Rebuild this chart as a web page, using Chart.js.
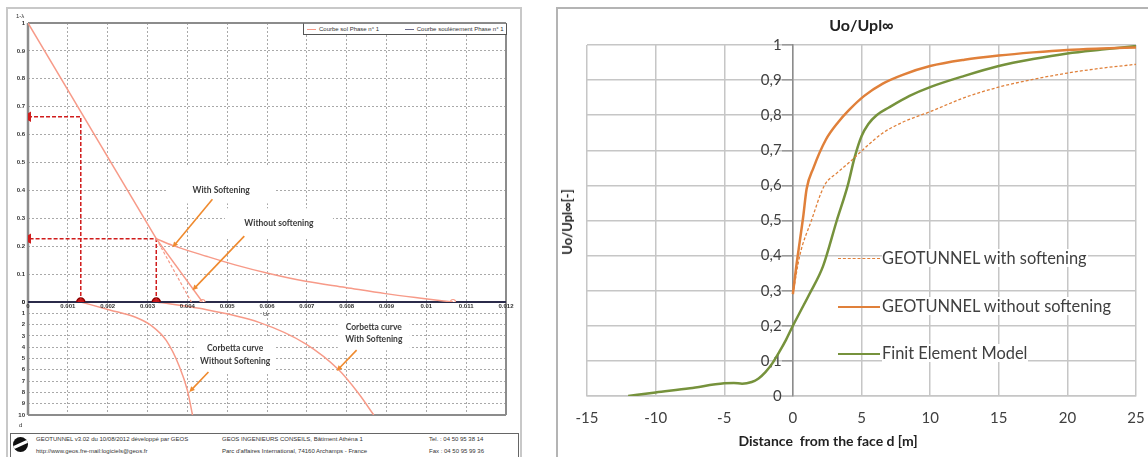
<!DOCTYPE html>
<html>
<head>
<meta charset="utf-8">
<title>GEOTUNNEL - Uo/Upl</title>
<script src="https://cdn.jsdelivr.net/npm/chart.js@4.4.1/dist/chart.umd.min.js"></script>
<style>
html, body { margin: 0; padding: 0; background: #fff; }
body { position: relative; width: 1148px; height: 457px; overflow: hidden; font-family: "Liberation Sans", Arial, sans-serif; color: #333; }
canvas, .abs { position: absolute; }
#leftFrame { left: 6px; top: 7px; width: 512px; height: 470px; border: 2px solid #c8c8c8; }
#rightFrame { left: 556px; top: 7px; width: 620px; height: 470px; border: 2px solid #b4b4b4; }
#soilLegend { left: 303px; top: 23px; width: 202px; height: 10px; border: 1px solid #555; border-top-color: #888; background: #fff; font-size: 6px; line-height: 10px; white-space: nowrap; }
#soilLegend .k { display: inline-block; width: 9px; height: 0; border-top: 1px solid; vertical-align: middle; margin: 0 3px 0 3px; }
.tiny { font-size: 6px; line-height: 7px; white-space: nowrap; color: #333; }
#footer { left: 10px; top: 433px; width: 507px; height: 30px; border: 1px solid #666; }
#logo { left: 13px; top: 437px; width: 15px; height: 15px; border-radius: 50%; background: #111; overflow: hidden; }
#logo div { position: absolute; left: -2px; top: 6px; width: 19px; height: 3px; background: #fff; transform: rotate(-25deg); border-radius: 2px; }
.ttl { font-family: Lato, "Open Sans", sans-serif; font-weight: bold; color: #222; white-space: nowrap; }
.leg { left: 838px; height: 18px; font: 16.4px Lato, "Open Sans", sans-serif; color: #404040; white-space: nowrap; }
.leg .k { position: absolute; left: 0; top: 9px; width: 42px; height: 0; border-top-style: solid; }
.leg .t { position: absolute; left: 44px; top: 0; line-height: 18px; background: #fff; padding-right: 1px; }
</style>
</head>
<body>
<div id="leftFrame" class="abs"></div>
<div id="rightFrame" class="abs"></div>

<canvas id="corbettaChart" width="530" height="140" style="left:0;top:290px"></canvas>
<canvas id="soilChart" width="530" height="320" style="left:0;top:0"></canvas>
<canvas id="convChart" width="612" height="449" style="left:557px;top:8px"></canvas>

<div class="abs tiny" style="left:16px;top:13px">1-λ</div>
<div class="abs tiny" style="left:263px;top:311px">Ur</div>
<div class="abs tiny" style="left:19px;top:422px">d</div>

<div id="soilLegend" class="abs">
  <span class="k" style="border-color:#f79a88"></span>Courbe sol Phase n° 1
  <span class="k" style="border-color:#6c6c8c;margin-left:24px"></span>Courbe soulènement Phase n° 1
</div>

<div id="footer" class="abs"></div>
<div id="logo" class="abs"><div></div></div>
<div class="abs tiny" style="left:36px;top:436px">GEOTUNNEL v3.02 du 10/08/2012 développé par GEOS</div>
<div class="abs tiny" style="left:36px;top:448px">http://www.geos.fre-mail:logiciels@geos.fr</div>
<div class="abs tiny" style="left:222px;top:436px">GEOS INGENIEURS CONSEILS, Bâtiment Athéna 1</div>
<div class="abs tiny" style="left:222px;top:448px">Parc d'affaires International, 74160 Archamps - France</div>
<div class="abs tiny" style="left:429px;top:436px">Tel. : 04 50 95 38 14</div>
<div class="abs tiny" style="left:429px;top:448px">Fax : 04 50 95 99 36</div>

<div class="abs ttl" style="left:567px;top:222px;font-size:13px;transform:translate(-50%,-50%) rotate(-90deg)">Uo/Upl∞[-]</div>
<div class="abs ttl" style="left:828px;top:440px;font-size:14px;transform:translate(-50%,-50%)">Distance&nbsp; from the face d [m]</div>

<div class="abs leg" style="top:249px"><span class="k" style="border-top-width:1px;border-top-style:dashed;border-color:#e0803a"></span><span class="t">GEOTUNNEL with softening</span></div>
<div class="abs leg" style="top:297px"><span class="k" style="border-top-width:2.5px;border-color:#e0803a"></span><span class="t">GEOTUNNEL without softening</span></div>
<div class="abs leg" style="top:344px"><span class="k" style="border-top-width:2.5px;border-color:#76923c"></span><span class="t">Finit Element Model</span></div>

<script>
// ---- left: ground reaction curve (1-lambda vs Ur) ----
const soilElasticUr = [0, 0.00322];
const soilElasticL = [1, 0.227];
const soilSoftUr = [0.00322, 0.00363, 0.0045, 0.0052, 0.00605, 0.00697, 0.00797, 0.00897, 0.00997, 0.01067];
const soilSoftL = [0.227, 0.203, 0.163, 0.133, 0.102, 0.074, 0.052, 0.030, 0.012, 0];
const soilNoSoftUr = [0.00322, 0.00438];
const soilNoSoftL = [0.227, 0];
const soilTrendUr = [0.00322, 0.0041];
const soilTrendL = [0.227, 0];
const readUr1 = [0.001325, 0.001325, 0];
const readL1 = [0, 0.664, 0.664];
const readUr2 = [0.00322, 0.00322, 0];
const readL2 = [0, 0.227, 0.227];
const pickUr = [0.001325, 0.00322];
const pickL = [0, 0];
const endUr = [0.00438, 0.01067];
const endL = [0, 0];

// ---- left, lower part: Corbetta curves (Ur vs d) ----
const corbNoSoftUr = [0.001325, 0.00205, 0.0027, 0.0031, 0.00347, 0.0038, 0.004, 0.00413];
const corbNoSoftD = [0, 0.7, 1.35, 2.1, 3.4, 5.7, 7.8, 10];
const corbSoftUr = [0.00322, 0.0043, 0.0058, 0.00697, 0.0078, 0.0083, 0.00868];
const corbSoftD = [0, 0.56, 1.8, 3.7, 6.0, 8.1, 10];

// ---- right: Uo/Upl vs distance from the face ----
const femD = [-12, -10, -7.5, -5, -4.3, -3.7, -3, -2.5, -2, -1.5, -1, -0.5, 0, 0.6, 1.2, 2.2, 3.2, 4, 4.5, 5, 5.5, 6.1, 7, 8.5, 10, 12.5, 15, 17.5, 20, 22.5, 25];
const femU = [0, 0.01, 0.022, 0.036, 0.037, 0.035, 0.04, 0.05, 0.068, 0.093, 0.125, 0.16, 0.2, 0.245, 0.29, 0.37, 0.5, 0.6, 0.68, 0.74, 0.775, 0.8, 0.822, 0.855, 0.88, 0.912, 0.94, 0.96, 0.976, 0.987, 0.997];
const noSoftD = [0, 0.25, 0.5, 0.75, 1.0, 1.5, 2.4, 3.3, 4.1, 5.2, 6.55, 8, 10, 12.5, 15, 17.5, 20, 22.5, 25];
const noSoftU = [0.29, 0.37, 0.44, 0.51, 0.59, 0.65, 0.73, 0.78, 0.815, 0.855, 0.89, 0.915, 0.94, 0.958, 0.97, 0.979, 0.986, 0.99, 0.993];
const softD = [0, 0.5, 1.35, 2.3, 3.2, 4.1, 5.2, 6.5, 8, 10, 12.5, 15, 17.5, 20, 22.5, 25];
const softU = [0.29, 0.4, 0.5, 0.6, 0.635, 0.665, 0.705, 0.748, 0.78, 0.81, 0.85, 0.88, 0.902, 0.92, 0.934, 0.945];

const SALMON = "#f79a88";
const ORANGE = "#e0803a";
const GREEN = "#76923c";

const pts = (xs, ys) => xs.map((x, i) => ({ x: x, y: ys[i] }));

// fixed axis sizes so both left plots line up
const fixW = (w) => (s) => { s.width = w; s.paddingTop = 0; s.paddingBottom = 0; };
const fixH = (h) => (s) => { s.height = h; s.paddingLeft = 0; s.paddingRight = 0; };

// thick frame round the plot area, x axis in navy
const framePlugin = {
    id: "frame",
    beforeDatasetsDraw(chart, args, o) {
        const a = chart.chartArea;
        const ctx = chart.ctx;
        const seg = (c, w, x1, y1, x2, y2) => {
            ctx.save();
            ctx.strokeStyle = c;
            ctx.lineWidth = w;
            ctx.beginPath();
            ctx.moveTo(x1, y1);
            ctx.lineTo(x2, y2);
            ctx.stroke();
            ctx.restore();
        };
        seg(o.left, 2.5, a.left, a.top, a.left, a.bottom);
        seg(o.left, 2, a.right, a.top, a.right, a.bottom);
        seg(o.top, 2, a.left, a.top, a.right, a.top);
        seg(o.bottom, 2, a.left, a.bottom, a.right, a.bottom);
    },
};

// text call-outs (white patch + text) with orange arrows, anchored in data units
const notesPlugin = {
    id: "notes",
    beforeDatasetsDraw(chart, args, o) {
        const ctx = chart.ctx;
        const sx = chart.scales.x;
        const sy = chart.scales.y;
        (o.items || []).forEach((n) => {
            const cx = sx.getPixelForValue(n.at[0]);
            const cy = sy.getPixelForValue(n.at[1]);
            ctx.save();
            ctx.fillStyle = "#fff";
            ctx.fillRect(cx - n.box[0] / 2, cy - n.box[1] / 2 + (n.dy || 0), n.box[0], n.box[1]);
            ctx.font = "bold 8.5px Lato";
            ctx.fillStyle = "#3a3a3a";
            ctx.textAlign = "center";
            ctx.textBaseline = "middle";
            n.text.forEach((t, i) => ctx.fillText(t, cx, cy + (i - (n.text.length - 1) / 2) * 12.5));
            ctx.restore();
        });
    },
    afterDatasetsDraw(chart, args, o) {
        const ctx = chart.ctx;
        const sx = chart.scales.x;
        const sy = chart.scales.y;
        (o.items || []).forEach((n) => {
            const x1 = sx.getPixelForValue(n.from[0]);
            const y1 = sy.getPixelForValue(n.from[1]);
            const x2 = sx.getPixelForValue(n.to[0]);
            const y2 = sy.getPixelForValue(n.to[1]);
            const ang = Math.atan2(y2 - y1, x2 - x1);
            ctx.save();
            ctx.strokeStyle = "#ef8a2e";
            ctx.fillStyle = "#ef8a2e";
            ctx.lineWidth = 1.6;
            ctx.beginPath();
            ctx.moveTo(x1, y1);
            ctx.lineTo(x2 - 4 * Math.cos(ang), y2 - 4 * Math.sin(ang));
            ctx.stroke();
            ctx.beginPath();
            ctx.moveTo(x2, y2);
            ctx.lineTo(x2 - 6 * Math.cos(ang - 0.45), y2 - 6 * Math.sin(ang - 0.45));
            ctx.lineTo(x2 - 6 * Math.cos(ang + 0.45), y2 - 6 * Math.sin(ang + 0.45));
            ctx.closePath();
            ctx.fill();
            ctx.restore();
        });
    },
};

const smallFont = { family: "'Liberation Sans', Arial, sans-serif", size: 6, weight: "bold" };
const dotGrid = { color: "#a9a9a9", lineWidth: 1, drawTicks: false };

const lineSet = (data, color, width, extra) =>
    Object.assign({ data: data, showLine: true, borderColor: color, borderWidth: width, pointRadius: 0, fill: false }, extra || {});

const arrowEnd = (ctx) => (ctx.dataIndex === 2 ? 4.5 : 0);

new Chart(document.getElementById("soilChart"), {
    type: "scatter",
    data: {
        datasets: [
            lineSet(pts(soilElasticUr, soilElasticL), SALMON, 1.5),
            lineSet(pts(soilSoftUr, soilSoftL), SALMON, 1.5, { cubicInterpolationMode: "monotone" }),
            lineSet(pts(soilNoSoftUr, soilNoSoftL), SALMON, 1.5),
            lineSet(pts(soilTrendUr, soilTrendL), SALMON, 1.2, { borderDash: [3, 2] }),
            lineSet(pts(readUr1, readL1), "#d01c1c", 1.5, {
                borderDash: [4, 2], pointRadius: arrowEnd, pointStyle: "triangle", rotation: 270,
                pointBackgroundColor: "#d01c1c", pointBorderColor: "#d01c1c",
            }),
            lineSet(pts(readUr2, readL2), "#d01c1c", 1.5, {
                borderDash: [4, 2], pointRadius: arrowEnd, pointStyle: "triangle", rotation: 270,
                pointBackgroundColor: "#d01c1c", pointBorderColor: "#d01c1c",
            }),
            { data: pts(pickUr, pickL), pointRadius: 4, pointBackgroundColor: "#c8161a", pointBorderColor: "#8a0000", pointBorderWidth: 1.5 },
            { data: pts(endUr, endL), pointRadius: 2.5, pointBackgroundColor: "#fff", pointBorderColor: SALMON, pointBorderWidth: 1.2 },
        ],
    },
    options: {
        responsive: false,
        animation: false,
        layout: { padding: { top: 23, right: 24, left: 0, bottom: 0 } },
        plugins: {
            legend: { display: false },
            tooltip: { enabled: false },
            frame: { left: "#8c8c8c", top: "#8c8c8c", bottom: "#2b2b4a" },
            notes: {
                items: [
                    { text: ["With Softening"], at: [0.00485, 0.4], box: [108, 38], dy: -6, from: [0.00463, 0.368], to: [0.00363, 0.196] },
                    { text: ["Without softening"], at: [0.0063, 0.282], box: [108, 30], from: [0.00543, 0.236], to: [0.00413, 0.042] },
                ],
            },
        },
        scales: {
            x: {
                type: "linear",
                min: 0,
                max: 0.012,
                afterFit: fixH(18),
                grid: dotGrid,
                border: { display: false, dash: [2, 2] },
                ticks: {
                    stepSize: 0.001,
                    padding: 1,
                    maxRotation: 0,
                    autoSkip: false,
                    color: "#333",
                    font: smallFont,
                    callback: (v) => String(+v.toFixed(3)),
                },
            },
            y: {
                min: 0,
                max: 1,
                afterFit: fixW(28),
                grid: dotGrid,
                border: { display: false, dash: [2, 2] },
                ticks: {
                    stepSize: 0.1,
                    padding: 3,
                    autoSkip: false,
                    color: "#333",
                    font: smallFont,
                    callback: (v) => String(+v.toFixed(1)),
                },
            },
        },
    },
    plugins: [framePlugin, notesPlugin],
});

new Chart(document.getElementById("corbettaChart"), {
    type: "scatter",
    data: {
        datasets: [
            lineSet(pts(corbNoSoftUr, corbNoSoftD), SALMON, 1.5, { cubicInterpolationMode: "monotone" }),
            lineSet(pts(corbSoftUr, corbSoftD), SALMON, 1.5, { cubicInterpolationMode: "monotone" }),
        ],
    },
    options: {
        responsive: false,
        animation: false,
        layout: { padding: { top: 12, right: 24, left: 0, bottom: 15 } },
        plugins: {
            legend: { display: false },
            tooltip: { enabled: false },
            frame: { left: "#8c8c8c", top: "#2b2b4a", bottom: "#8c8c8c" },
            notes: {
                items: [
                    { text: ["Corbetta curve", "Without Softening"], at: [0.0052, 4.66], box: [78, 36], from: [0.00453, 6.2], to: [0.00405, 7.97] },
                    { text: ["Corbetta curve", "With Softening"], at: [0.00868, 2.76], box: [72, 34], from: [0.00825, 4.26], to: [0.00775, 6.1] },
                ],
            },
        },
        scales: {
            x: {
                type: "linear",
                min: 0,
                max: 0.012,
                afterFit: fixH(0),
                grid: dotGrid,
                border: { display: false, dash: [2, 2] },
                ticks: { stepSize: 0.001, display: false },
            },
            y: {
                reverse: true,
                min: 0,
                max: 10,
                afterFit: fixW(28),
                grid: dotGrid,
                border: { display: false, dash: [2, 2] },
                ticks: { stepSize: 1, padding: 3, autoSkip: false, color: "#333", font: smallFont },
            },
        },
    },
    plugins: [framePlugin, notesPlugin],
});

const calibri = { family: "Lato, 'Open Sans', sans-serif", size: 15 };

new Chart(document.getElementById("convChart"), {
    type: "line",
    data: {
        datasets: [
            { label: "GEOTUNNEL with softening", data: pts(softD, softU), borderColor: ORANGE, borderWidth: 1.3, borderDash: [3, 2], pointRadius: 0, cubicInterpolationMode: "monotone" },
            { label: "GEOTUNNEL without softening", data: pts(noSoftD, noSoftU), borderColor: ORANGE, borderWidth: 2.5, pointRadius: 0, cubicInterpolationMode: "monotone" },
            { label: "Finit Element Model", data: pts(femD, femU), borderColor: GREEN, borderWidth: 2.5, pointRadius: 0, cubicInterpolationMode: "monotone" },
        ],
    },
    options: {
        responsive: false,
        animation: false,
        layout: { padding: { left: 30, right: 33, top: 0, bottom: 0 } },
        plugins: {
            legend: { display: false },
            tooltip: { enabled: false },
            title: {
                display: true,
                text: "Uo/Upl∞",
                color: "#222",
                font: { family: "Lato, 'Open Sans', sans-serif", size: 16, weight: "bold" },
                padding: { top: 8, bottom: 9.8 },
            },
        },
        scales: {
            x: {
                type: "linear",
                min: -15,
                max: 25,
                afterFit: fixH(61),
                grid: { color: "#c6c6c6", lineWidth: 1.5, drawTicks: false },
                border: { color: "#c6c6c6", width: 1.5 },
                ticks: { stepSize: 5, padding: 13, color: "#404040", font: calibri, maxRotation: 0 },
            },
            y: {
                position: { x: 0 },
                min: 0,
                max: 1,
                afterFit: (s) => { s.paddingTop = 0; s.paddingBottom = 0; },
                grid: { color: "#c6c6c6", lineWidth: 1.5, tickLength: 10, tickColor: "#9a9a9a" },
                border: { color: "#8c8c8c", width: 1.5 },
                ticks: {
                    stepSize: 0.1,
                    padding: 2,
                    color: "#404040",
                    font: calibri,
                    // the label sits at the crossing axis; the em space keeps it clear of the tick mark
                    callback: (v) => (v === 0 || v === 1 ? String(v) : v.toFixed(1).replace(".", ",")) + "\u2003",
                },
            },
        },
    },
});
</script>
</body>
</html>
